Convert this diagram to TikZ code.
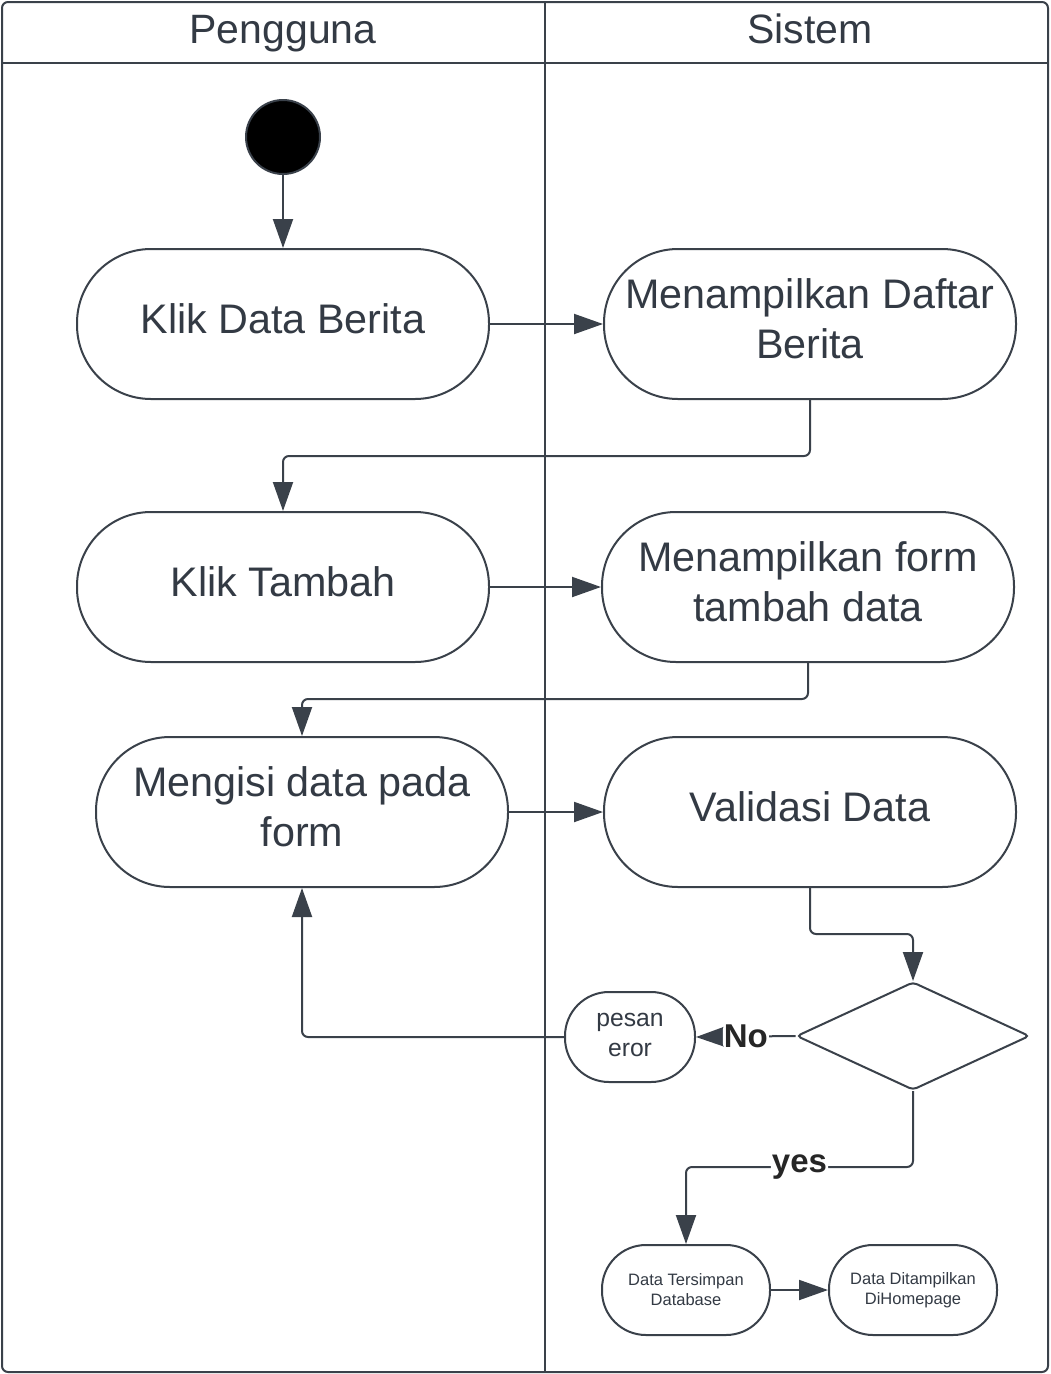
\documentclass[tikz,border=0pt]{standalone}
\usepackage{fontspec}
\setmainfont{Liberation Sans}
\usetikzlibrary{arrows.meta,shapes.geometric}
\definecolor{ln}{HTML}{3A414A}
\definecolor{tx}{HTML}{333A44}
\begin{document}
\begin{tikzpicture}[x=1pt,y=-1pt,
  base/.style={draw=ln, line width=2pt, text=tx, align=center, inner sep=0pt, fill=white},
  big/.style={base, minimum width=412pt, minimum height=150pt, rounded corners=74pt},
  bigtxt/.style={text=tx, align=center, inner sep=0pt, yshift=5.5pt, font=\fontsize{41.3}{50}\selectfont},
  mid/.style={base, minimum width=130pt, minimum height=90pt, rounded corners=44pt},
  midtxt/.style={text=tx, align=center, inner sep=0pt, yshift=2pt, font=\fontsize{24.7}{30}\selectfont},
  sml/.style={base, minimum width=168pt, minimum height=90pt, rounded corners=44pt, font=\fontsize{16.5}{20}\selectfont},
  conn/.style={draw=ln, line width=2pt, rounded corners=6pt, -{Triangle[length=29pt,width=20pt]}},
  lbl/.style={fill=white, text=black!85, font=\bfseries\fontsize{33}{36}\selectfont, inner sep=1pt},
  hdr/.style={text=tx, anchor=base, inner sep=0pt, font=\fontsize{41}{46}\selectfont}]
\useasboundingbox (0,0) rectangle (1050,1374);
% frame
\draw[ln, line width=2pt, rounded corners=6pt] (2,2) rectangle (1048,1372);
\draw[ln, line width=2pt] (2,63) -- (1048,63);
\draw[ln, line width=2pt] (545,2) -- (545,1372);
\node[hdr] (h1) at (283,43) {Pengguna};
\node[hdr] (h2) at (810,43) {Sistem};
% nodes
\node[circle, draw=ln, line width=2pt, fill=black, minimum size=74pt, inner sep=0pt] (start) at (283,137) {};
\node[big, label={[bigtxt]center:Klik Data Berita}] (a1) at (283,324) {};
\node[big, label={[bigtxt]center:{Menampilkan Daftar\\Berita}}] (b1) at (810,324) {};
\node[big, label={[bigtxt]center:Klik Tambah}] (a2) at (283,587) {};
\node[big, label={[bigtxt]center:{Menampilkan form\\tambah data}}] (b2) at (808,587) {};
\node[big, label={[bigtxt]center:{Mengisi data pada\\form}}] (a3) at (302,812) {};
\node[big, label={[bigtxt]center:Validasi Data}] (b3) at (810,812) {};
\node[diamond, draw=ln, line width=2pt, fill=white, minimum width=233pt, minimum height=108pt, inner sep=0pt, rounded corners=4pt] (dec) at (913,1036) {};
\node[mid, label={[midtxt]center:{pesan\\eror}}] (err) at (630,1037) {};
\node[sml] (d1) at (686,1290) {Data Tersimpan\\Database};
\node[sml] (d2) at (913,1290) {Data Ditampilkan\\DiHomepage};
% helper coordinates
\coordinate (y1) at (0,456);
\coordinate (y2) at (0,699);
\coordinate (y3) at (0,934);
\coordinate (y4) at (0,1167);
\coordinate (x1) at (302,0);
% connectors
\draw[conn] (start) -- (a1);
\draw[conn] (a1.east) -- (b1.west);
\draw[conn] (b1.south) -- (b1.south |- y1) -- (a2.north |- y1) -- (a2.north);
\draw[conn] (a2.east) -- (b2.west);
\draw[conn] (b2.south) -- (b2.south |- y2) -- (a3.north |- y2) -- (a3.north);
\draw[conn] (a3.east) -- (b3.west);
\draw[conn] (b3.south) -- (b3.south |- y3) -- (dec.north |- y3) -- (dec.north);
\draw[conn] (dec.west) -- node[lbl] (no) {No} (err.east);
\draw[conn] (err.west) -- (err.west -| x1) -- (a3.south);
\draw[conn] (dec.south) -- (dec.south |- y4) -- node[lbl] (yes) {yes} (d1.north |- y4) -- (d1.north);
\draw[conn] (d1.east) -- (d2.west);
\end{tikzpicture}
\end{document}
